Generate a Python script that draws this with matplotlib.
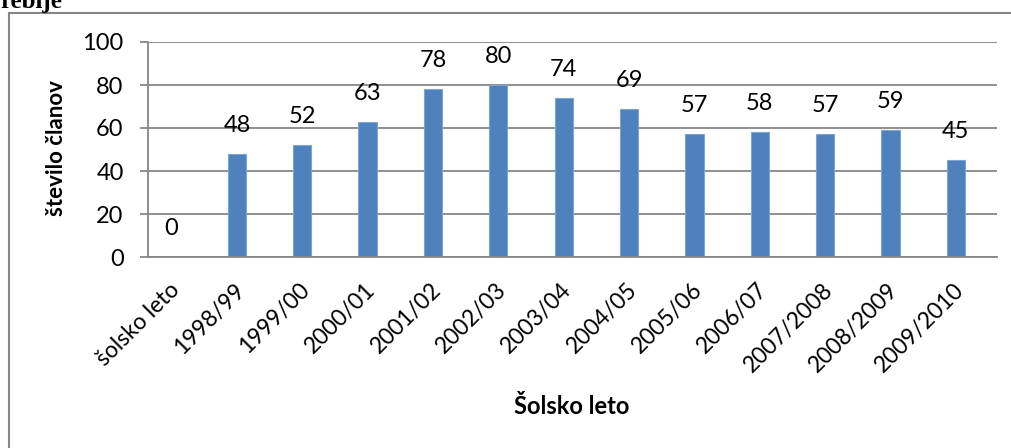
import numpy as np
import matplotlib.pyplot as plt
from matplotlib.patches import Rectangle
from matplotlib.transforms import ScaledTranslation

years = ['šolsko leto', '1998/99', '1999/00', '2000/01', '2001/02', '2002/03', '2003/04',
         '2004/05', '2005/06', '2006/07', '2007/2008', '2008/2009', '2009/2010']
members = [0, 48, 52, 63, 78, 80, 74, 69, 57, 58, 57, 59, 45]
yticks = [0, 20, 40, 60, 80, 100]

plt.rcParams['font.family'] = ['Lato', 'DejaVu Sans']
grey = '#878787'

fig = plt.figure(figsize=(10.12, 4.48), dpi=100)
ax = fig.add_axes([148 / 1012, 1 - 257 / 448, 849 / 1012, 215 / 448])

x = np.arange(len(years))
ax.bar(x, members, width=0.28, color='#4F81BD', edgecolor='#7FA5D2', lw=0.8, zorder=2)
for xi, v in zip(x, members):
    ax.annotate(str(v), (xi, v), xytext=(0, 20.5), textcoords='offset points',
                ha='center', va='center', fontsize=17, zorder=3)

# categories sit a bit left of centre in the original plot area
ax.set_xlim(-0.36, len(years) - 1 + 0.63)
ax.set_ylim(0, 100)
ax.set_yticks(yticks)
ax.yaxis.grid(True, color=grey, lw=1.3, zorder=0)
ax.set_axisbelow(True)
for s in ['top', 'right']:
    ax.spines[s].set_visible(False)
for s in ['left', 'bottom']:
    ax.spines[s].set_color(grey)
    ax.spines[s].set_linewidth(1.3)
ax.tick_params(axis='y', length=6, width=1.3, color=grey, labelsize=17, pad=11.5)
ax.tick_params(axis='x', length=0, labelsize=16.5, pad=16)
ax.set_xticks(x)
ax.set_xticklabels(years, rotation=45, ha='right', va='top', rotation_mode='anchor')
shift = ScaledTranslation(-3 / 100, 0, fig.dpi_scale_trans)
for lab in ax.get_xticklabels():
    lab.set_transform(lab.get_transform() + shift)

fig.text(57 / 1012, 1 - 148 / 448, 'število članov', rotation=90, ha='center',
         va='center', fontsize=16, fontweight='bold')
fig.text(572 / 1012, 1 - 406 / 448, 'Šolsko leto', ha='center', va='center',
         fontsize=17, fontweight='bold')

# frame of the chart area and the cut heading above it
fig.patches.append(Rectangle((8.5 / 1012, -0.2), 1.2, 1 - 13 / 448 + 0.2,
                             transform=fig.transFigure, fill=False,
                             edgecolor=grey, lw=1.5))
fig.text(0, 1 - 8 / 448, 'rebije', family='Liberation Serif', fontweight='bold',
         fontsize=18, ha='left', va='baseline')

fig.savefig('out.png', dpi=100)
